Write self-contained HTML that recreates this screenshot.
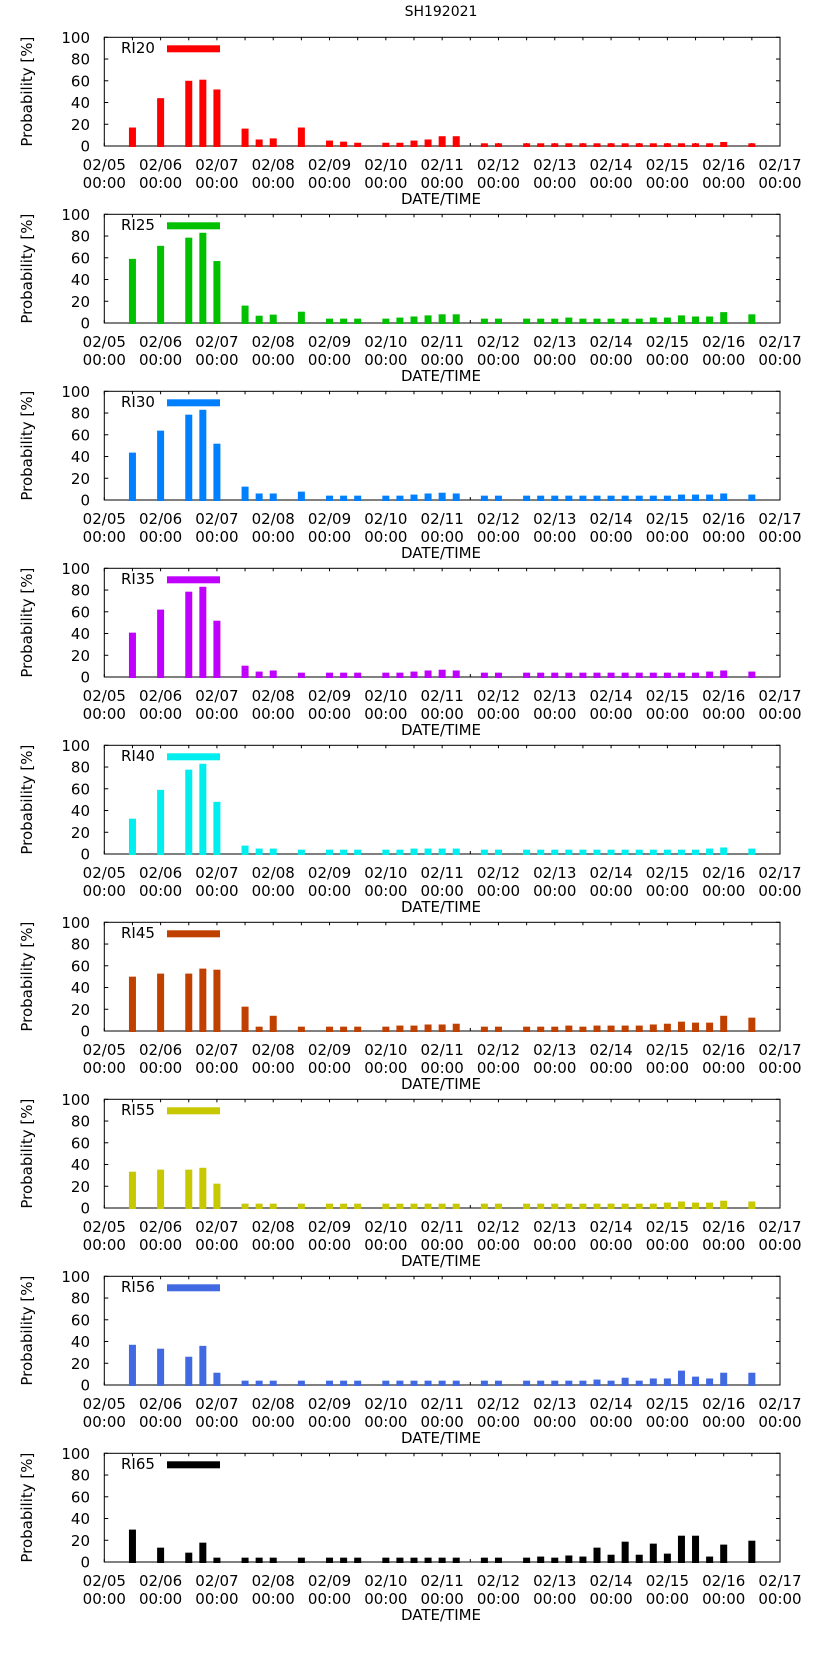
<!DOCTYPE html>
<html><head><meta charset="utf-8"><style>
html,body{margin:0;padding:0;background:#fff;}
svg{display:block;font-family:"DejaVu Sans","Liberation Sans",sans-serif;}
</style></head><body>
<svg id="chart" width="822" height="1653" viewBox="0 0 822 1653" xmlns="http://www.w3.org/2000/svg">
<text x="441" y="16" font-size="14" text-anchor="middle">SH192021</text>
</svg>
<script>
// bar times, days after 02/05 00:00
const times = [0.5,1.0,1.5,1.75,2.0,2.5,2.75,3.0,3.5,4.0,4.25,4.5,5.0,5.25,5.5,5.75,6.0,6.25,6.75,7.0,7.5,7.75,8.0,8.25,8.5,8.75,9.0,9.25,9.5,9.75,10.0,10.25,10.5,10.75,11.0,11.5];
const xTickLabels = ["02/05","02/06","02/07","02/08","02/09","02/10","02/11","02/12","02/13","02/14","02/15","02/16","02/17"];
const yTicks = [0,20,40,60,80,100];
const seriesNames = ["RI20","RI25","RI30","RI35","RI40","RI45","RI55","RI56","RI65"];
const ri20 = [17,44,60,61,52,16,6,7,17,5,4,3,3,3,5,6,9,9,2.5,2.5,2.5,2.5,2.5,2.5,2.5,2.5,2.5,2.5,2.5,2.5,2.5,2.5,2.5,2.5,3.7,2.5];
const ri25 = [59,71,78.5,83,57,16,6.7,7.7,10.4,4,4,4,4,5,6,7,8,8,4,4,4,4,4,5,4,4,4,4,4,5,5,7,6,6,10,8];
const ri30 = [43.6,63.8,78.5,83,51.8,12.3,6,6,7.7,4,4,4,4,4,5,6,6.7,6,4,4,4,4,4,4,4,4,4,4,4,4,4,5,5,5,6,5];
const ri35 = [40.8,62,78.5,83,51.8,10.4,5,6,4,4,4,4,4,4,5,6,6.7,6,4,4,4,4,4,4,4,4,4,4,4,4,4,4,4,5,6,5];
const ri40 = [32.5,59,77.6,83,48,7.7,5,5,4,4,4,4,4,4,5,5,5,5,4,4,4,4,4,4,4,4,4,4,4,4,4,4,4,5,6,5];
const ri45 = [50,52.8,52.8,57.4,56.4,22.4,4,14,4,4,4,4,4,5,5,6,6,6.7,4,4,4,4,4,5,4,5,5,5,5,6,6.7,8.6,7.7,7.7,14,12.3];
const ri55 = [33.4,35.3,35.3,37,22.4,4,4,4,4,4,4,4,4,4,4,4,4,4,4,4,4,4,4,4,4,4,4,4,4,4,5,6,5,5,6.7,6];
const ri56 = [37,33.4,26,36,11.3,4,4,4,4,4,4,4,4,4,4,4,4,4,4,4,4,4,4,4,4,5,4,6.7,4,6,6,13.2,7.7,6,11.3,11.3];
const ri65 = [29.8,13.2,8.6,17.8,4,4,4,4,4,4,4,4,4,4,4,4,4,4,4,4,4,5,4,6,5,13.2,6.7,18.7,6.7,16.9,7.7,24.2,24.2,5,16,19.6];
const allSeries = [ri20,ri25,ri30,ri35,ri40,ri45,ri55,ri56,ri65];
const colors = ["#ff0000","#00c000","#0080ff","#c000ff","#00eeee","#c04000","#c8c800","#4169e1","#000000"];

const NS = "http://www.w3.org/2000/svg";
const svg = document.getElementById("chart");
const X0 = 104.3, X1 = 780, PH = 108.7;
function xScale(d){ return X0 + d*(X1-X0)/12; }
function mk(tag, attrs, parent){
  const e = document.createElementNS(NS, tag);
  for (const k in attrs) e.setAttribute(k, attrs[k]);
  (parent||svg).appendChild(e);
  return e;
}
allSeries.forEach((vals, p) => {
  const top = 37.3 + 177*p, zero = top + PH;
  const yScale = v => zero - v*PH/100;
  const g = mk("g", {});
  
  
  // frame
  const fr = mk("rect", {x: X0, y: top, width: X1-X0, height: PH, fill: "none", stroke: "#000", "stroke-width": 1}, g);
  
  
  // x ticks every 12h
  for (let h = 0; h <= 24; h++) {
    const x = xScale(h/2);
    mk("line", {x1: x, y1: zero, x2: x, y2: zero-3, stroke: "#000"}, g);
    mk("line", {x1: x, y1: top, x2: x, y2: top+3, stroke: "#000"}, g);
  }
  // bars (drawn over ticks)
  vals.forEach((v, i) => {
    const y = yScale(v);
    const r = mk("rect", {x: xScale(times[i]) - 3.5, y: y, width: 7, height: zero - y + 1, fill: colors[p]}, g);
    
    
  });
  // y ticks + labels
  yTicks.forEach(t => {
    const y = yScale(t);
    mk("line", {x1: X0, y1: y, x2: X0+4, y2: y, stroke: "#000"}, g);
    mk("line", {x1: X1, y1: y, x2: X1-4, y2: y, stroke: "#000"}, g);
    const tl = mk("text", {x: 90, y: y+5.5, "font-size": 15, "text-anchor": "end"}, g);
    tl.textContent = t;
    
    
  });
  // x labels
  xTickLabels.forEach((lab, i) => {
    const x = xScale(i);
    const t1 = mk("text", {x: x, y: zero+24, "font-size": 15, "text-anchor": "middle"}, g);
    t1.textContent = lab;
    
    
    const t2 = mk("text", {x: x, y: zero+42, "font-size": 15, "text-anchor": "middle"}, g);
    t2.textContent = "00:00";
    
    
  });
  const xt = mk("text", {x: 441, y: zero+58, "font-size": 15, "text-anchor": "middle"}, g);
  xt.textContent = "DATE/TIME";
  
  
  const cy = (top+zero)/2;
  const yt = mk("text", {x: 32, y: cy, "font-size": 15, "text-anchor": "middle", transform: "rotate(-90 32 " + cy + ")"}, g);
  yt.textContent = "Probability [%]";
  
  
  // legend
  const lt = mk("text", {x: 121, y: top+15.5, "font-size": 15}, g);
  lt.textContent = seriesNames[p];
  
  
  const ls = mk("rect", {x: 167, y: top+8, width: 53, height: 7, fill: colors[p]}, g);
  
  
});
</script>
</body></html>
